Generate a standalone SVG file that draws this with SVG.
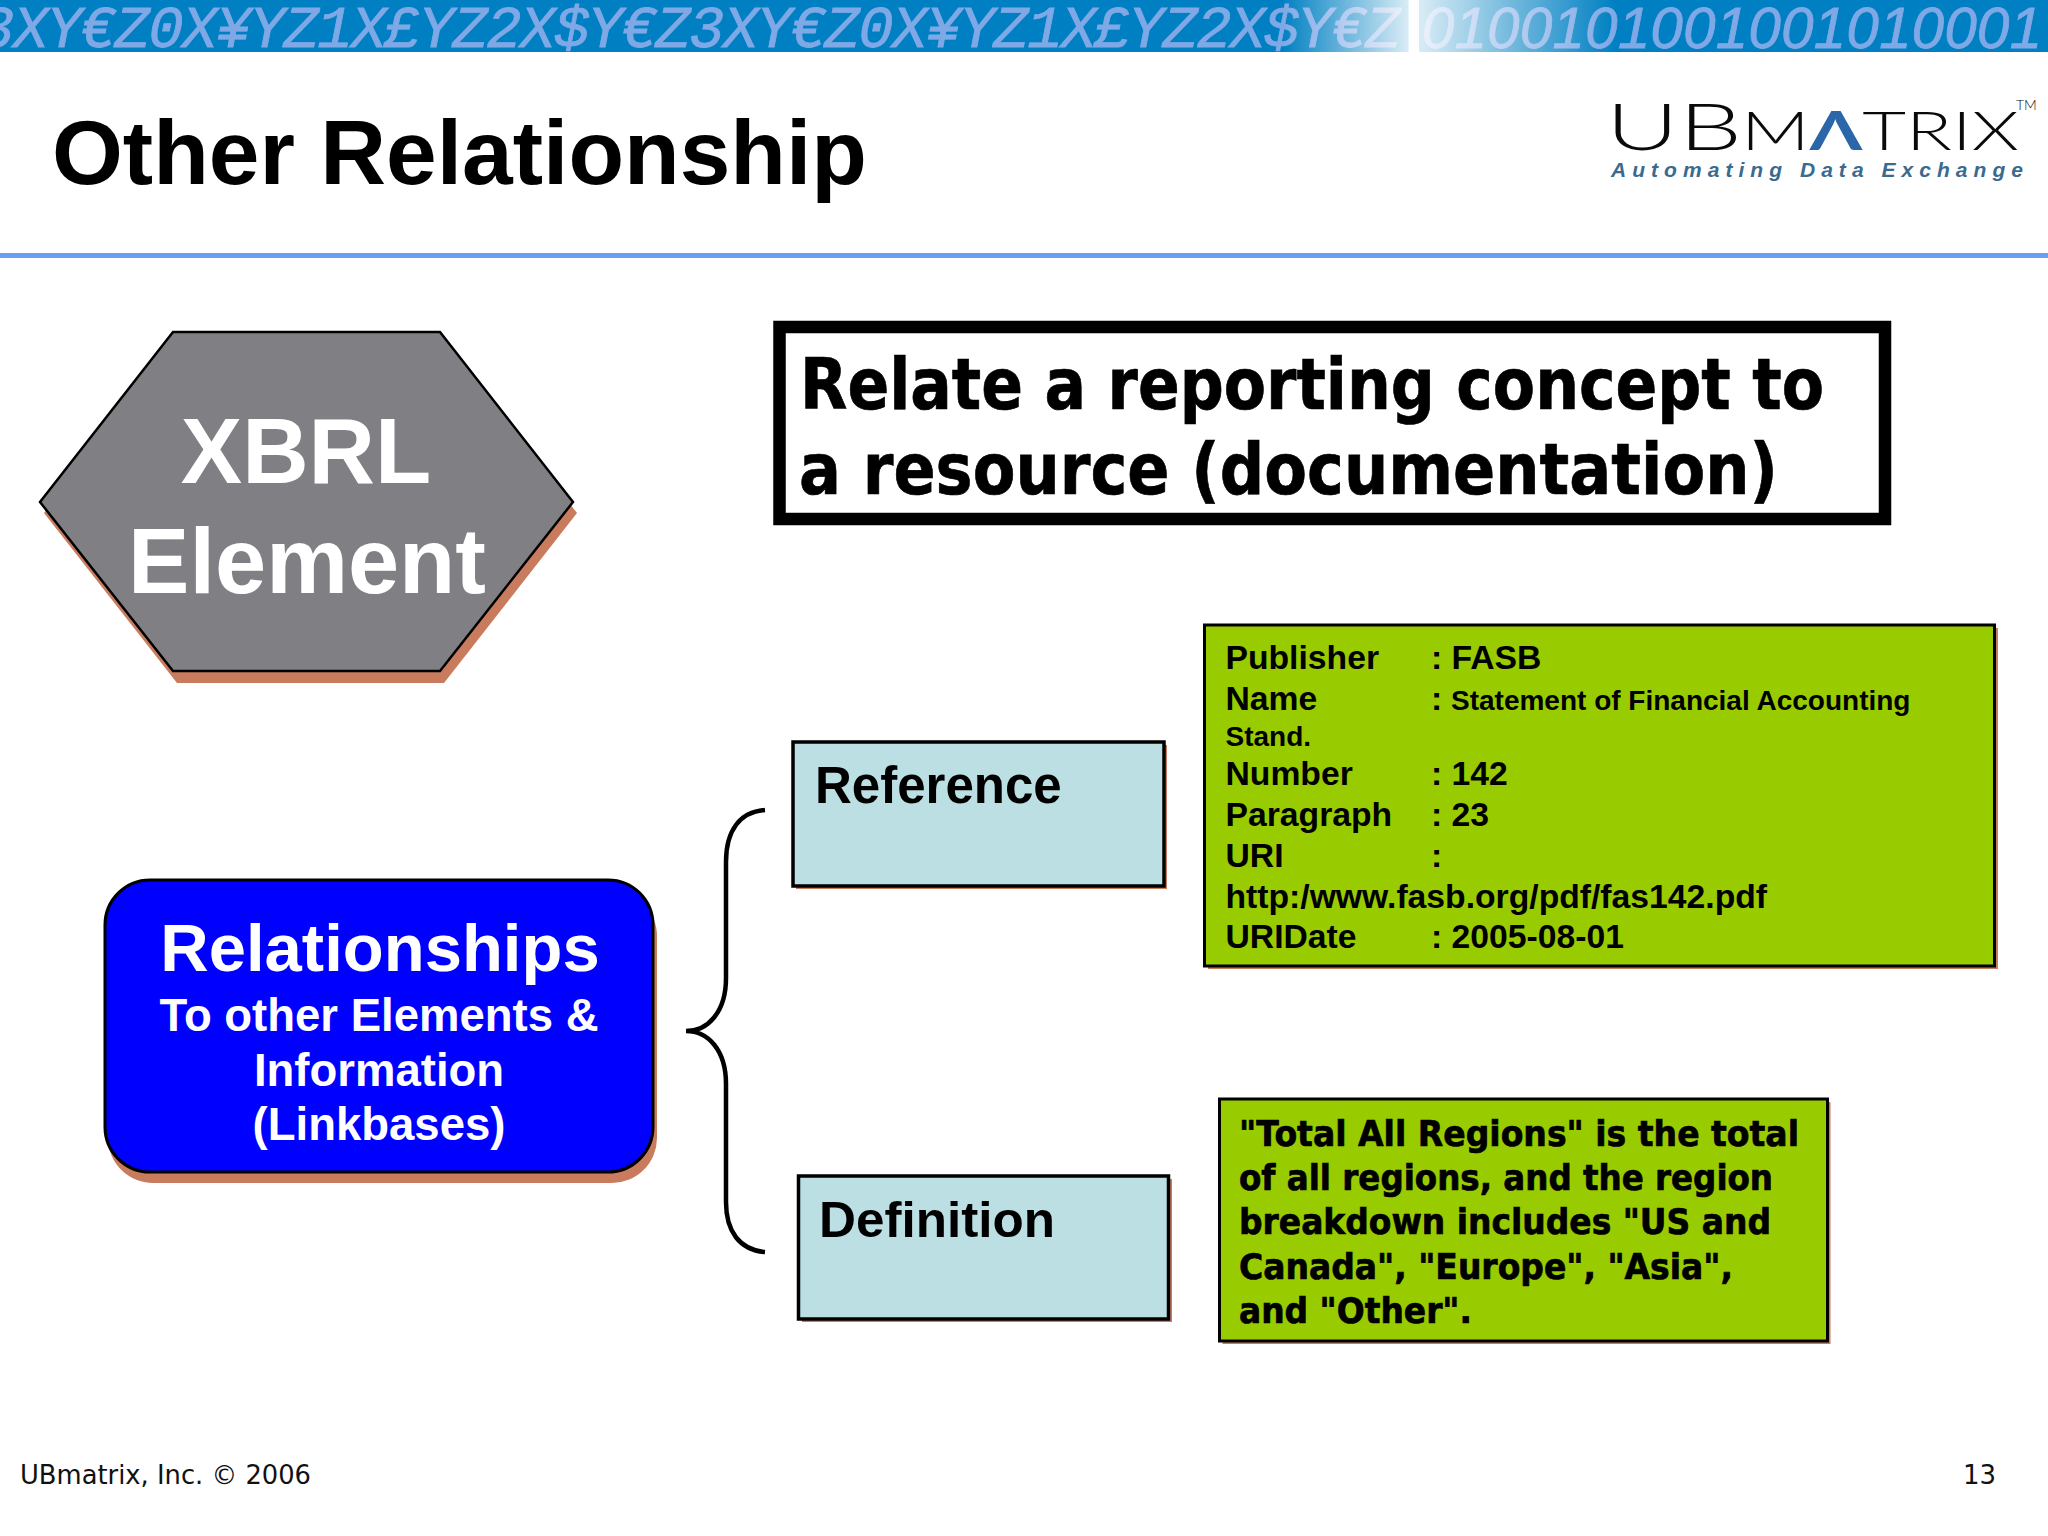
<svg xmlns="http://www.w3.org/2000/svg" width="2048" height="1536" viewBox="0 0 2048 1536">
<style>
text{font-family:"Liberation Sans",Arial,sans-serif;font-weight:700;fill:#000}
.wh{fill:#fff}
.ta{font-family:"DejaVu Sans",Verdana,sans-serif;font-weight:700;stroke:#000;stroke-width:.7}
.ft{font-family:"DejaVu Sans",Verdana,sans-serif;font-weight:400;font-size:26px;fill:#111}
.bn{font-family:"Liberation Mono",monospace;font-style:italic;font-weight:400;font-size:59px;letter-spacing:-1.6px;fill:#7fa9e6;stroke:#7fa9e6;stroke-width:.8}
.bd{font-family:"Liberation Sans",sans-serif;font-style:italic;font-weight:400;font-size:58px;fill:#7fa9e6;stroke:#7fa9e6;stroke-width:.8}
.logo{font-family:"Lato","Liberation Sans",sans-serif;font-weight:300;fill:#0a0a0a}
.tag{font-style:italic;fill:#3a6b8e}
.sh{fill:#c97b5e}
.d{font-size:33.7px}
.s{font-size:28px}
.g{fill:#9c0;stroke:#000;stroke-width:3}
.c{fill:#bbdfe3;stroke:#000;stroke-width:3.5}
.l2{font-size:35px}
</style>
<defs>
<linearGradient id="fade" x1="0" x2="1" y1="0" y2="0">
<stop offset="0" stop-color="#fff" stop-opacity="0"/>
<stop offset="0.379" stop-color="#fff" stop-opacity="0.85"/>
<stop offset="0.381" stop-color="#fff" stop-opacity="1"/>
<stop offset="0.41" stop-color="#fff" stop-opacity="1"/>
<stop offset="0.412" stop-color="#fff" stop-opacity="0.85"/>
<stop offset="1" stop-color="#fff" stop-opacity="0"/>
</linearGradient>
</defs>
<rect width="2048" height="1536" fill="#fff"/>
<g id="banner">
<rect width="2048" height="52" fill="#0080c2"/>
<text class="bn" x="-21" y="47">3</text>
<text class="bn" x="13" y="47">XY€Z0X¥YZ1X£YZ2X$Y€Z3XY€Z0X¥YZ1X£YZ2X$Y€Z</text>
<text class="bd" x="1422" y="48" textLength="620">0100101001001010001</text>
<rect x="1282" width="333" height="52" fill="url(#fade)"/>
</g>
<rect id="header-rule" y="253" width="2048" height="5" fill="#6e9df0"/>
<text id="title" x="52" y="184" font-size="91" textLength="815" lengthAdjust="spacingAndGlyphs">Other Relationship</text>
<g id="logo">
<text class="logo" x="1606" y="150" font-size="66" textLength="136" lengthAdjust="spacingAndGlyphs">UB</text>
<text class="logo" x="1741" y="150" font-size="53" textLength="278" lengthAdjust="spacingAndGlyphs">M<tspan fill="#2a66a8" font-weight="700">Λ</tspan>TRIX</text>
<text class="logo" x="2016" y="110" font-size="14">TM</text>
<text class="tag" x="1611" y="177" font-size="21" textLength="412">Automating Data Exchange</text>
</g>
<g id="connectors">
<path d="M765 810C740 812 726 830 726 862V978C726 1012 708 1031 686 1031C708 1031 726 1050 726 1084V1202C726 1232 740 1250 765 1252" fill="none" stroke="#000" stroke-width="4.5"/>
</g>
<g id="xbrl-element">
<polygon class="sh" points="44,513 177,344 444,344 577,513 444,683 177,683"/>
<polygon points="40,502 173,332 440,332 573,502 440,671 173,671" fill="#807f83" stroke="#000" stroke-width="2.5"/>
<text class="wh" x="306" y="483" font-size="92" text-anchor="middle">XBRL</text>
<text class="wh" x="307" y="593" font-size="92" text-anchor="middle">Element</text>
</g>
<g id="relationships">
<rect class="sh" x="108" y="891" width="549" height="292" rx="45"/>
<rect x="105" y="880" width="548" height="292" rx="45" fill="#00f" stroke="#000" stroke-width="3"/>
<text class="wh" x="380" y="971" font-size="67" text-anchor="middle">Relationships</text>
<text class="wh" x="379" y="1031" font-size="45.5" text-anchor="middle">To other Elements &amp;</text>
<text class="wh" x="379" y="1086" font-size="45.5" text-anchor="middle">Information</text>
<text class="wh" x="379" y="1140" font-size="45.5" text-anchor="middle">(Linkbases)</text>
</g>
<g id="statement">
<rect x="779.5" y="327" width="1105.5" height="192" fill="#fff" stroke="#000" stroke-width="12.5"/>
<text class="ta" x="800" y="409" font-size="72" textLength="1024" lengthAdjust="spacingAndGlyphs">Relate a reporting concept to</text>
<text class="ta" x="799" y="494" font-size="72" textLength="979" lengthAdjust="spacingAndGlyphs">a resource (documentation)</text>
</g>
<g id="reference">
<rect class="sh" x="796" y="745" width="371" height="144"/>
<rect class="c" x="793" y="742" width="371" height="144"/>
<text x="815" y="803" font-size="51">Reference</text>
</g>
<g id="definition">
<rect class="sh" x="802" y="1179" width="370" height="143"/>
<rect class="c" x="798.5" y="1176" width="370" height="143"/>
<text x="819" y="1237" font-size="50" textLength="236" lengthAdjust="spacingAndGlyphs">Definition</text>
</g>
<g id="reference-details">
<rect class="sh" x="1208" y="628" width="790" height="341"/>
<rect class="g" x="1204.5" y="625" width="790" height="341"/>
<text class="d" x="1225.5" y="669">Publisher</text>
<text class="d" x="1431" y="669">: FASB</text>
<text class="d" x="1225.5" y="710">Name</text>
<text class="d" x="1431" y="710">:</text>
<text class="s" x="1451" y="710">Statement of Financial Accounting</text>
<text class="s" x="1225.5" y="746">Stand.</text>
<text class="d" x="1225.5" y="785">Number</text>
<text class="d" x="1431" y="785">: 142</text>
<text class="d" x="1225.5" y="826">Paragraph</text>
<text class="d" x="1431" y="826">: 23</text>
<text class="d" x="1225.5" y="867">URI</text>
<text class="d" x="1431" y="867">:</text>
<text class="d" x="1225.5" y="908">http:/www.fasb.org/pdf/fas142.pdf</text>
<text class="d" x="1225.5" y="948">URIDate</text>
<text class="d" x="1431" y="948">: 2005-08-01</text>
</g>
<g id="definition-details">
<rect class="sh" x="1222.5" y="1102" width="608" height="242"/>
<rect class="g" x="1219.5" y="1099" width="608" height="242"/>
<text class="ta l2" x="1239" y="1146" textLength="560" lengthAdjust="spacingAndGlyphs">"Total All Regions" is the total</text>
<text class="ta l2" x="1239" y="1190" textLength="534" lengthAdjust="spacingAndGlyphs">of all regions, and the region</text>
<text class="ta l2" x="1239" y="1234" textLength="532" lengthAdjust="spacingAndGlyphs">breakdown includes "US and</text>
<text class="ta l2" x="1239" y="1279" textLength="494" lengthAdjust="spacingAndGlyphs">Canada", "Europe", "Asia",</text>
<text class="ta l2" x="1239" y="1323" textLength="233" lengthAdjust="spacingAndGlyphs">and "Other".</text>
</g>
<g id="footer">
<text class="ft" x="20" y="1484" textLength="291" lengthAdjust="spacingAndGlyphs">UBmatrix, Inc. © 2006</text>
<text class="ft" x="1963" y="1484">13</text>
</g>
</svg>
